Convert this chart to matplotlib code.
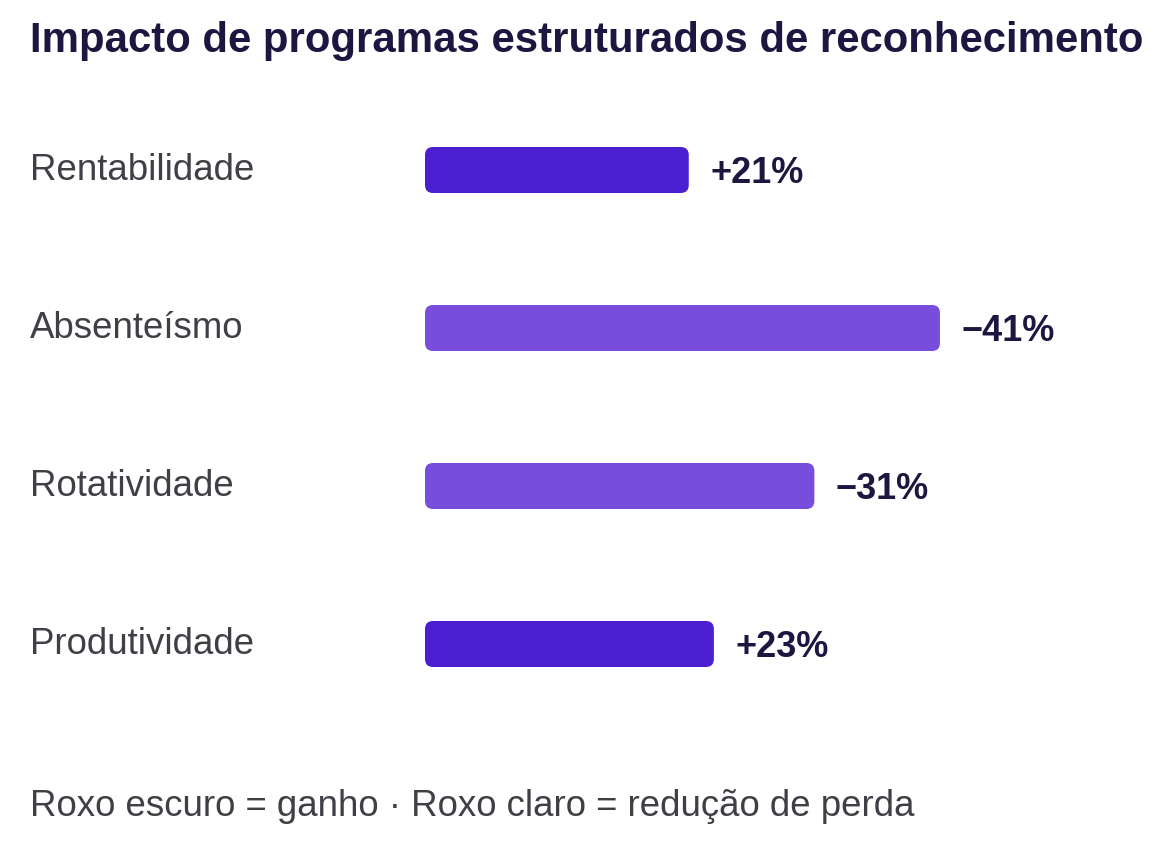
import matplotlib.pyplot as plt
from matplotlib.patches import FancyBboxPatch
from matplotlib.transforms import blended_transform_factory

plt.rcParams['font.family'] = ['Liberation Sans', 'DejaVu Sans']

categorias = ["Rentabilidade", "Absenteísmo", "Rotatividade", "Produtividade"]
valores = [21, 41, 31, 23]
rotulos = ["+21%", "\u221241%", "\u221231%", "+23%"]
tipo = ["ganho", "perda", "perda", "ganho"]

cores = {"ganho": "#4A1FD2", "perda": "#774DDC"}
cor_titulo = "#1E1640"
cor_texto = "#3F3F46"

fig = plt.figure(figsize=(11.76, 8.56), dpi=100)
fig.patch.set_facecolor("white")

# eixo: barras comecam em x=425px, 12.56 px por ponto percentual
ax = fig.add_axes([425 / 1176, 133 / 856, 751 / 1176, 632 / 856])
ax.set_xlim(0, 751 / 12.56)
ax.set_ylim(3.5, -0.5)
ax.axis("off")

altura = 46 / 158
raio = 8 / 12.56
aspecto = (8 / 158) / raio

trans = blended_transform_factory(fig.transFigure, ax.transData)

for i, (cat, v, r, t) in enumerate(zip(categorias, valores, rotulos, tipo)):
    barra = FancyBboxPatch((0, i - altura / 2), v, altura,
                           boxstyle=f"round,pad=0,rounding_size={raio}",
                           mutation_aspect=aspecto,
                           facecolor=cores[t], edgecolor="none")
    ax.add_patch(barra)
    ax.text(v + 1.7, i + 0.02, r, ha="left", va="center",
            fontsize=26, fontweight="bold", color=cor_titulo)
    ax.text(30 / 1176, i, cat, transform=trans, ha="left", va="center",
            fontsize=26.4, color=cor_texto)

fig.text(30 / 1176, 1 - 41 / 856, "Impacto de programas estruturados de reconhecimento",
         ha="left", va="center", fontsize=30.2, fontweight="bold", color=cor_titulo)

fig.text(30 / 1176, 1 - 807 / 856,
         "Roxo escuro = ganho \u00b7 Roxo claro = redução de perda",
         ha="left", va="center", fontsize=26.4, color=cor_texto)

fig.savefig("out.png", dpi=100, facecolor="white")
